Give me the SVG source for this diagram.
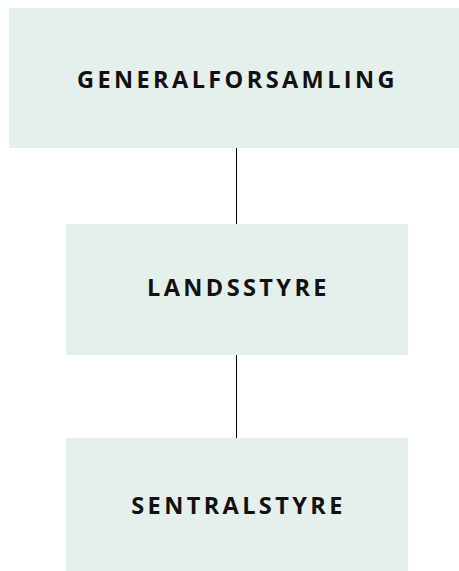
<svg xmlns="http://www.w3.org/2000/svg" width="459" height="571" viewBox="0 0 459 571">
<style>
.box{fill:#e5efec}
.lbl{font-family:"Open Sans","Noto Sans",sans-serif;font-weight:700;font-size:23.5px;letter-spacing:3.4px;fill:#111;text-anchor:middle;dominant-baseline:central}
.conn{stroke:#000;stroke-width:1;fill:none}
</style>
<rect width="459" height="571" fill="#fff"/>
<g id="connectors">
<line class="conn" x1="236.5" y1="148" x2="236.5" y2="224"/>
<line class="conn" x1="236.5" y1="355" x2="236.5" y2="438"/>
</g>
<g id="generalforsamling">
<rect class="box" x="9" y="8" width="456" height="140"/>
<text class="lbl" x="237.5" y="79">GENERALFORSAMLING</text>
</g>
<g id="landsstyre">
<rect class="box" x="66" y="224" width="342" height="131"/>
<text class="lbl" x="238.5" y="287">LANDSSTYRE</text>
</g>
<g id="sentralstyre">
<rect class="box" x="66" y="438" width="342" height="133"/>
<text class="lbl" x="238.5" y="505">SENTRALSTYRE</text>
</g>
</svg>
